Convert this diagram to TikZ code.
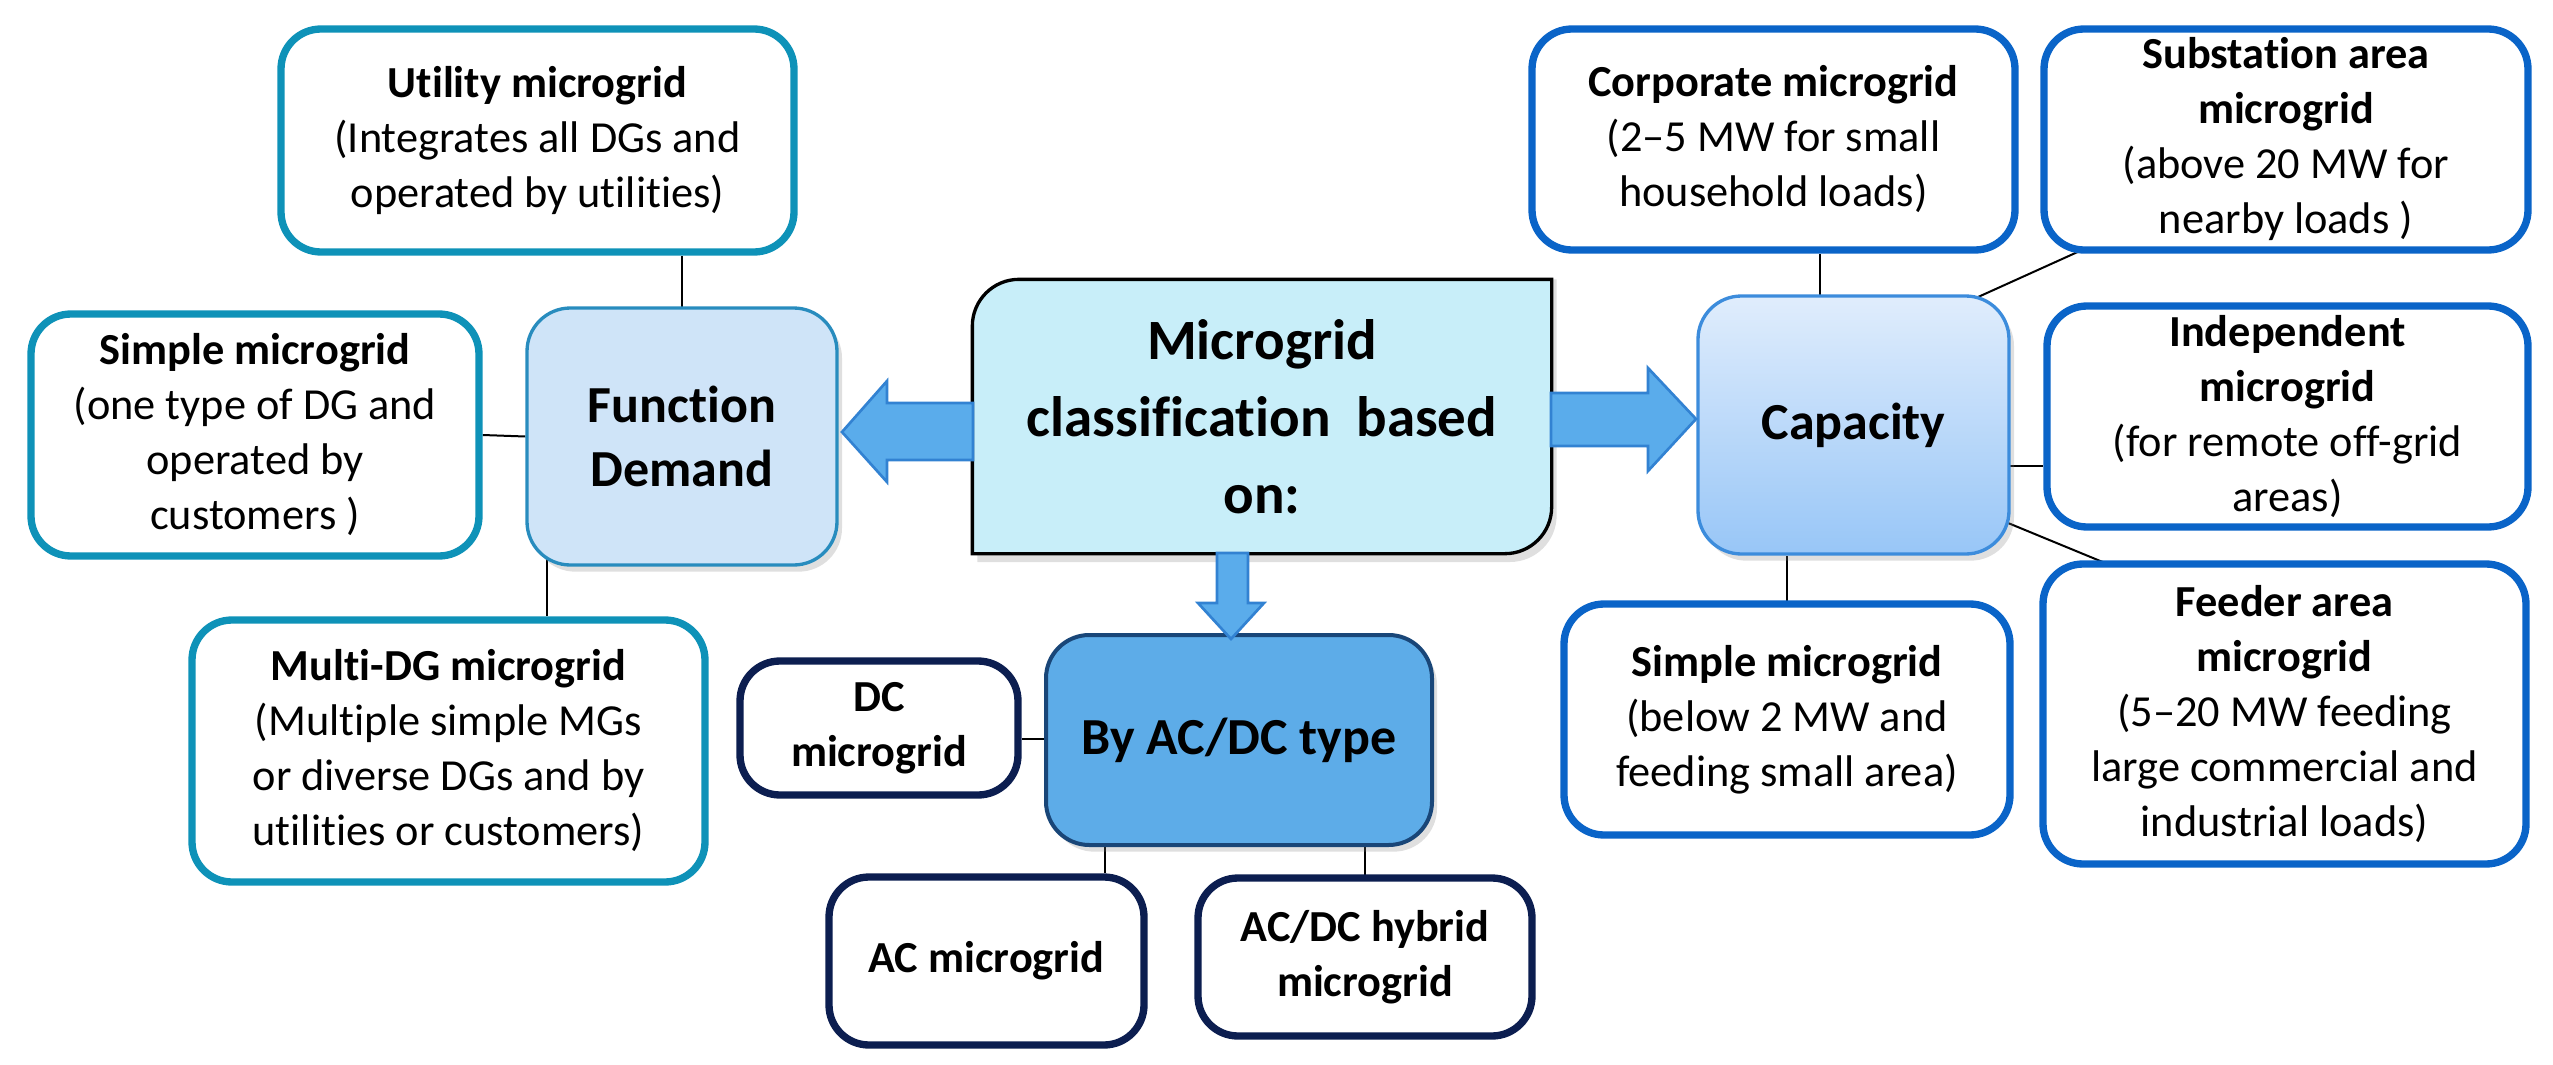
\documentclass[tikz,border=0pt]{standalone}
\usepackage{fontspec}
\setmainfont{Carlito}[Ligatures=NoCommon]
\usetikzlibrary{shadows,backgrounds,calc}
\definecolor{tealB}{RGB}{14,146,184}
\definecolor{blueB}{RGB}{10,100,200}
\definecolor{navyB}{RGB}{12,30,80}
\definecolor{funcFill}{RGB}{207,228,248}
\definecolor{funcB}{RGB}{40,140,190}
\definecolor{centFill}{RGB}{200,238,249}
\definecolor{acdcFill}{RGB}{93,172,232}
\definecolor{acdcB}{RGB}{25,70,120}
\definecolor{capTop}{RGB}{224,237,252}
\definecolor{capBot}{RGB}{152,198,247}
\definecolor{capB}{RGB}{60,140,220}
\definecolor{arrFill}{RGB}{90,172,235}
\definecolor{arrEdge}{RGB}{50,130,210}
\newcommand\fsmall{\fontsize{13.3}{16.5}\selectfont}
\newcommand\fmid{\fontsize{15.6}{19.2}\selectfont\bfseries}
\newcommand\fbig{\fontsize{17.1}{23.1}\selectfont\bfseries}
\tikzset{
  basebox/.style={line width=2.2pt, rounded corners=12pt, fill=white, align=center, inner xsep=2pt, inner ysep=0pt, font=\fsmall},
  tealbox/.style={basebox, draw=tealB},
  bluebox/.style={basebox, draw=blueB},
  navybox/.style={basebox, draw=navyB},
  mainbox/.style={align=center, inner sep=0pt, font=\fmid, rounded corners=13pt,
     drop shadow={shadow xshift=1.5pt, shadow yshift=-2pt, opacity=0.25, fill=gray}},
  conn/.style={draw=black, line width=0.6pt},
  blockarrow/.style={fill=arrFill, draw=arrEdge, line width=0.8pt, line join=miter}
}
\begin{document}
\begin{tikzpicture}[x=0.3pt,y=-0.3pt]
\useasboundingbox (0,0) rectangle (2553,1065);

% left group
\node[tealbox, minimum width=153.9pt, minimum height=66.9pt] (util) at (537.5,140.5)
  {\textbf{Utility microgrid}\\(Integrates all DGs and\\operated by utilities)};
\node[tealbox, minimum width=134.4pt, minimum height=72.6pt] (simpL) at (255,435)
  {\textbf{Simple microgrid}\\(one type of DG and\\operated by\\customers )};
\node[mainbox, fill=funcFill, draw=funcB, line width=1pt, minimum width=93pt, minimum height=77.1pt] (func) at (682,436.5)
  {Function\\Demand};
\node[tealbox, minimum width=153.9pt, minimum height=78.6pt] (multi) at (448.5,751)
  {\textbf{Multi-DG microgrid}\\(Multiple simple MGs\\or diverse DGs and by\\utilities or customers)};

% centre
\node[align=center, inner sep=0pt, font=\fbig, minimum width=173.4pt, minimum height=81.9pt] (central) at (1262,416.5)
  {Microgrid\\classification\ \ based\\on:};

% AC/DC group
\node[mainbox, fill=acdcFill, draw=acdcB, line width=1.2pt, minimum width=115.8pt, minimum height=63pt] (acdc) at (1239,740)
  {By AC/DC type};
\node[navybox, font=\fsmall\bfseries, minimum width=83.4pt, minimum height=40.2pt] (dc) at (879,728)
  {DC\\microgrid};
\node[navybox, font=\fsmall\bfseries, minimum width=94.5pt, minimum height=50.4pt] (ac) at (986.5,961)
  {AC microgrid};
\node[navybox, font=\fsmall\bfseries, minimum width=100.2pt, minimum height=47.4pt] (hyb) at (1365,957)
  {AC/DC hybrid\\microgrid};

% capacity group
\node[mainbox, top color=capTop, bottom color=capBot, draw=capB, line width=1pt, minimum width=93.3pt, minimum height=77.4pt] (cap) at (1853.5,425)
  {Capacity};
\node[bluebox, minimum width=144.9pt, minimum height=66.3pt] (corp) at (1773.5,139.5)
  {\textbf{Corporate microgrid}\\(2--5 MW for small\\household loads)};
\node[bluebox, minimum width=145.2pt, minimum height=66.3pt] (subst) at (2286,139.5)
  {\textbf{Substation area}\\\textbf{microgrid}\\(above 20 MW for\\nearby loads )};
\node[bluebox, minimum width=144.3pt, minimum height=66.3pt] (indep) at (2287.5,416.5)
  {\textbf{Independent}\\\textbf{microgrid}\\(for remote off-grid\\areas)};
\node[bluebox, minimum width=133.8pt, minimum height=69.3pt] (simpR) at (1787,719.5)
  {\textbf{Simple microgrid}\\(below 2 MW and\\feeding small area)};
\node[bluebox, minimum width=144.9pt, minimum height=90pt] (feeder) at (2284.5,714)
  {\textbf{Feeder area}\\\textbf{microgrid}\\(5--20 MW feeding\\large commercial and\\industrial loads)};

\begin{scope}[on background layer]
  % connectors
  \draw[conn] (func.center) -- (func.center |- util.south);
  \draw[conn] (simpL.east) -- (func.west);
  \coordinate (fm) at ($(func.south west)+(22,-30)$);
  \draw[conn] (fm) -- (fm |- multi.north);
  \coordinate (dca) at ($(acdc.west)+(10,-1)$);
  \draw[conn] (dca) -- (dca -| dc.east);
  \coordinate (aca) at ($(acdc.south west)+(61,-10)$);
  \draw[conn] (aca) -- (aca |- ac.north);
  \draw[conn] (hyb.center) -- (hyb.center |- acdc.south);
  \coordinate (cc) at ($(cap.north)+(-33.5,10)$);
  \draw[conn] (cc) -- (cc |- corp.south);
  \draw[conn] ($(subst.south west)+(38,-2)$) -- ($(cap.north east)+(-40,6)$);
  \coordinate (ci) at ($(cap.east)+(-10,41)$);
  \draw[conn] (ci) -- (ci -| indep.west);
  \draw[conn] ($(cap.south east)+(-18,-39)$) -- ($(feeder.north west)+(69,4)$);
  \draw[conn] (simpR.center) -- (simpR.center |- cap.south);
  % central box shape
  \fill[gray, opacity=0.25] ([xshift=1.5pt,yshift=-14pt]central.north west) arc[start angle=180, end angle=90, radius=14pt]
     -- ([xshift=1.5pt,yshift=0pt]central.north east) -- ([xshift=1.5pt,yshift=14pt-2.5pt]central.south east)
     arc[start angle=0, end angle=-90, radius=14pt] -- ([xshift=1.5pt,yshift=-2.5pt]central.south west) -- cycle;
  \draw[fill=centFill, draw=black, line width=1pt] ([yshift=-14pt]central.north west) arc[start angle=180, end angle=90, radius=14pt]
     -- (central.north east) -- ([yshift=14pt]central.south east)
     arc[start angle=0, end angle=-90, radius=14pt] -- (central.south west) -- cycle;
\end{scope}

% block arrows
\draw[blockarrow] (973,403) -- (887,403) -- (887,381) -- (842,432) -- (887,482) -- (887,460) -- (973,460) -- cycle;
\draw[blockarrow] (1551,393) -- (1648,393) -- (1648,368) -- (1696,419) -- (1648,471) -- (1648,446) -- (1551,446) -- cycle;
\draw[blockarrow] (1217,553) -- (1248,553) -- (1248,603) -- (1264,603) -- (1231,639) -- (1198,603) -- (1217,603) -- cycle;
\end{tikzpicture}
\end{document}
